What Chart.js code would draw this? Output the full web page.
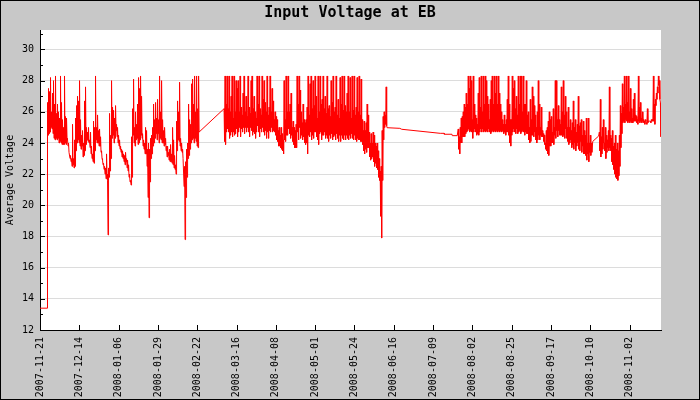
<!DOCTYPE html>
<html>
<head>
<meta charset="utf-8">
<title>Input Voltage at EB</title>
<script src="https://cdn.jsdelivr.net/npm/chart.js@4/dist/chart.umd.min.js"></script>
<style>
    html, body { margin: 0; padding: 0; background: #c8c8c8; }
    #wrap { width: 700px; height: 400px; }
</style>
</head>
<body>
<div id="wrap"><canvas id="voltChart" width="700" height="400"></canvas></div>
<script>
// Eixo X: dias desde 2007-11-21, um rotulo a cada 2.000.000 s
const dateTicks = ['2007-11-21', '2007-12-14', '2008-01-06', '2008-01-29', '2008-02-22', '2008-03-16',
    '2008-04-08', '2008-05-01', '2008-05-24', '2008-06-16', '2008-07-09', '2008-08-02',
    '2008-08-25', '2008-09-17', '2008-10-10', '2008-11-02'];
const tickEveryDays = 23.148;
const lastDay = 365.7;
const yMin = 12;
const yMax = 31.25;

const readingStep = 0.2946; // dias entre leituras

// inicio: leitura baixa antes da primeira rajada
const leadDays = [0, 4.40];
const leadVolts = [13.4, 13.4];

const burst1Start = 4.42;
const burst1 = [
    26.6,24.5, 27.5,24.6, 27.3,24.7, 28.2,25.0, 26.0,24.9, 27.2,24.6, 28.0,24.3, 26.5,24.2, 28.3,24.3, 25.9,24.2,
    26.5,24.3, 26.0,24.0, 25.6,24.1, 28.3,24.0, 26.6,23.9, 25.5,23.9, 25.0,23.9, 28.3,24.0, 25.7,23.9, 25.6,24.3,
    24.2,23.8, 24.0,23.4, 23.4,23.0, 23.2,22.8, 23.0,22.5, 25.2,22.6, 23.0,22.4, 24.2,22.5, 25.6,23.5, 26.4,24.0,
    27.0,24.2, 26.7,24.0, 28.0,23.8, 25.5,23.6, 24.5,23.8, 24.8,23.1, 24.0,23.2, 26.7,23.5, 27.6,23.9, 25.0,24.2,
    24.7,24.1, 25.0,24.0, 24.2,23.7, 24.7,23.3, 23.8,23.0, 23.3,22.8, 25.4,22.7, 25.0,23.5, 28.3,24.2, 25.0,24.0,
    25.8,24.0, 24.8,23.8, 24.9,23.8, 24.4,23.4, 23.5,23.0, 22.9,22.6, 22.7,22.3, 22.5,22.0, 22.4,21.7, 23.3,22.0,
    21.6,18.1, 22.4,21.8, 25.9,22.2, 24.5,23.0, 28.0,24.3, 26.3,24.5, 26.1,24.0, 25.6,24.3, 26.4,24.8, 25.2,24.4,
    25.0,24.0, 24.5,23.8, 24.2,23.6, 23.8,23.4, 23.6,23.1, 23.5,23.0, 23.3,22.8, 23.2,22.6, 23.4,22.8, 23.0,22.4,
    22.9,22.2, 22.6,21.8, 22.0,21.5, 21.6,21.3, 24.4,21.8, 26.2,24.5, 28.1,24.0, 25.0,23.8, 26.0,24.2, 25.2,24.3,
    26.5,23.9, 28.2,24.0, 27.5,24.2, 28.3,24.5, 27.0,24.3, 24.6,23.8, 24.2,23.6, 24.0,23.3, 25.0,23.3, 24.8,22.5,
    23.6,20.5, 24.0,19.2, 23.6,21.5, 24.3,23.0, 24.5,23.3, 25.0,23.8, 26.5,24.0, 25.5,24.3, 26.6,24.6, 25.6,24.2,
    26.8,24.6, 25.5,24.0, 28.3,24.3, 26.0,24.2, 28.0,24.0, 25.5,24.0, 24.8,23.8, 25.0,23.9, 24.3,23.5, 23.8,23.1,
    23.8,23.2, 23.4,22.9, 23.6,22.8, 23.9,22.8, 23.3,22.7, 25.0,22.6, 24.2,22.4, 23.2,22.3, 22.6,22.0, 25.4,23.5,
    26.7,24.2, 26.0,24.1, 27.9,23.8, 24.3,23.5, 24.0,23.4, 23.6,23.0, 23.0,21.2, 22.5,17.8, 22.8,20.5, 23.6,21.8,
    24.0,23.0, 26.5,23.2, 25.5,23.6, 25.2,24.0, 27.8,24.2, 28.1,24.3, 26.5,24.0, 28.3,24.3, 26.0,24.1, 28.3,23.8,
    26.2,23.7, 28.3,24.7
];

const burst2Start = 108.4;
const burst2 = [
    26.2,24.1, 28.3,23.9, 26.5,24.7, 28.3,24.9, 26.2,24.7, 28.3,24.3, 26.0,24.5, 27.0,24.7, 28.3,24.4, 25.6,24.7,
    28.3,24.5, 26.0,24.6, 28.0,24.9, 27.5,24.4, 28.0,24.7, 26.0,25.0, 28.3,24.4, 26.3,24.9, 25.8,24.7, 27.2,25.0,
    28.3,24.6, 26.0,25.0, 27.0,24.7, 25.7,25.0, 28.3,24.7, 26.3,24.4, 25.9,25.0, 28.0,24.8, 28.3,24.5, 26.2,24.7,
    27.0,24.6, 26.0,24.3, 25.6,24.7, 28.3,25.1, 26.5,24.7, 28.3,24.4, 26.2,24.9, 25.8,24.7, 28.3,25.0, 26.8,24.7,
    28.0,24.5, 26.6,24.8, 26.0,24.3, 28.3,24.7, 25.8,24.3, 26.3,24.8, 28.3,24.7, 26.0,25.0, 27.5,24.7, 26.7,24.8,
    25.5,24.7, 26.0,24.5, 25.7,24.2, 25.5,24.1, 24.8,23.8, 25.0,23.8, 24.5,23.7, 25.0,23.6, 24.6,23.5, 24.2,23.3,
    28.0,24.2, 25.5,24.1, 28.3,24.5, 26.0,24.5, 28.3,24.9, 26.0,24.6, 26.5,24.3, 27.2,24.5, 25.0,24.1, 25.4,23.9,
    25.0,23.7, 24.8,23.7, 25.2,23.7, 28.3,24.7, 26.5,24.2, 28.3,25.0, 27.4,24.3, 26.0,24.5, 25.3,24.2, 26.5,24.4,
    25.5,24.0, 25.3,23.9, 25.5,24.0, 26.3,23.3, 28.3,24.5, 25.8,24.4, 27.8,24.7, 28.3,24.2, 26.2,24.5, 28.0,24.3,
    26.4,24.7, 28.3,24.7, 27.0,24.4, 25.6,24.2, 28.3,23.9, 26.0,24.6, 28.3,24.7, 26.5,24.2, 26.8,24.5, 28.3,24.5,
    26.2,24.7, 27.0,24.3, 25.9,24.5, 28.3,24.3, 26.2,24.1, 26.4,24.5, 25.7,24.3, 28.0,24.6, 26.6,24.2, 28.3,24.4,
    26.0,24.5, 26.3,24.2, 28.3,24.6, 25.8,24.3, 26.8,24.1, 25.6,24.5, 28.2,24.1, 26.5,24.5, 28.3,24.3, 26.1,24.2,
    28.3,24.5, 26.4,24.2, 26.0,24.5, 27.2,24.3, 28.3,24.2, 26.0,24.5, 28.2,24.3, 25.6,24.6, 28.3,24.3, 26.1,24.2,
    28.3,24.5, 25.8,24.2, 26.3,24.1, 28.2,24.3, 26.0,24.2, 28.3,24.2, 25.8,24.1, 28.1,24.1, 25.5,23.9, 24.8,23.5,
    25.4,23.3, 24.8,23.6, 25.3,23.4, 26.5,23.7, 25.8,23.7, 24.7,23.1, 24.0,22.9, 24.6,23.0, 24.0,23.1, 24.7,22.8,
    24.5,22.5, 24.0,22.7, 23.8,22.4, 24.0,22.3, 23.5,21.8, 23.0,21.6, 22.2,19.3, 22.5,17.9, 24.8,21.6, 25.7,24.2,
    26.0,25.0, 25.8,25.2, 27.6,25.1
];

// periodo sem rajadas (linha quase plana)
const outageDays = [204.4, 211.9, 213.0, 235.7, 238.0, 238.1, 242.6, 242.8, 245.7];
const outageVolts = [24.98, 24.94, 24.88, 24.62, 24.62, 24.56, 24.56, 24.47, 24.47];

const burst3Start = 246.3;
const burst3 = [
    24.9,23.6, 24.4,23.3, 25.0,24.0, 25.6,24.0, 25.7,24.4, 26.0,24.4, 26.5,24.4, 26.3,24.6, 27.2,24.7, 26.5,24.8,
    28.3,24.9, 27.5,24.7, 28.3,24.8, 28.0,24.7, 25.5,24.3, 28.3,24.7, 26.5,24.9, 25.8,24.7, 25.6,24.5, 25.2,24.6,
    27.2,24.5, 28.2,24.7, 26.3,24.9, 28.3,24.7, 26.0,24.9, 28.3,24.7, 26.5,24.8, 28.3,24.7, 28.0,24.8, 27.0,24.7,
    26.5,24.9, 25.5,24.7, 26.8,24.6, 28.0,24.7, 28.3,24.8, 26.5,24.7, 28.3,24.8, 27.2,24.7, 28.3,24.8, 26.5,24.7,
    28.3,24.8, 27.2,24.7, 26.5,24.8, 26.0,24.7, 25.5,24.8, 25.2,24.6, 25.8,24.7, 25.2,24.5, 25.5,24.7, 26.8,24.7,
    28.3,24.5, 26.5,24.0, 25.5,23.8, 25.5,24.5, 28.3,24.7, 27.5,24.9, 28.0,24.7, 26.2,24.6, 27.0,24.9, 25.8,24.6,
    28.3,24.7, 26.5,24.8, 28.3,24.6, 28.3,24.7, 26.0,24.8, 28.3,24.7, 26.5,24.5, 26.5,24.7, 28.0,24.6, 25.8,24.6,
    26.0,24.2, 25.0,24.0, 26.8,24.1, 25.5,24.5, 27.6,24.5, 27.0,24.4, 26.4,24.7, 25.8,24.2, 25.0,24.0, 26.0,24.2,
    28.0,24.5, 26.5,24.2, 25.0,24.5, 26.3,24.4, 24.8,24.4, 24.6,24.1, 24.5,23.9, 24.0,23.6, 24.8,23.5, 25.0,23.3,
    25.4,23.2, 26.0,23.8, 25.5,23.8, 25.7,24.0, 24.7,24.0, 26.2,23.9, 25.0,24.5, 28.0,24.3, 28.0,24.8, 25.5,24.4,
    26.4,24.8, 25.5,24.5, 25.2,24.5, 27.6,24.5, 26.0,24.4, 28.0,24.5, 25.8,24.3, 27.0,24.9, 26.0,24.3, 25.0,24.1,
    26.3,23.9, 25.0,24.0, 25.5,24.2, 24.8,23.7, 25.3,23.9, 26.7,23.6, 25.0,24.0, 25.5,23.5, 24.7,23.8, 25.2,24.0,
    27.0,23.6, 25.1,23.5, 25.3,24.1, 25.5,23.4, 24.5,23.8, 25.4,23.3, 24.8,23.3, 24.5,23.2, 25.6,22.9, 24.0,23.3,
    25.6,22.8, 24.0,23.4, 24.5,23.2, 24.0,23.4
];

// subida lenta antes da ultima rajada
const rampDays = [325.5, 329.0];
const rampVolts = [24.1, 24.45];

const burst4Start = 329.4;
const burst4 = [
    24.7,23.5, 26.8,23.1, 24.4,23.3, 25.0,23.6, 25.5,24.0, 24.0,23.5, 25.0,23.0, 24.5,23.4, 24.2,23.7, 24.8,23.5,
    27.6,23.7, 24.5,23.5, 24.3,22.8, 24.8,22.6, 23.8,22.3, 24.0,22.0, 24.5,21.8, 23.6,21.7, 24.0,21.6, 23.5,21.9,
    24.5,22.5, 26.4,23.7, 25.9,24.6, 27.8,25.3, 26.3,25.4, 28.3,25.3, 26.5,25.5, 28.3,25.4, 26.6,25.3, 28.3,25.4,
    26.0,25.3, 27.5,25.4, 26.2,25.3, 25.6,25.3, 26.8,25.4, 27.2,25.4, 25.8,25.4, 25.7,25.3, 25.5,25.2, 28.3,25.4,
    26.3,25.3, 26.6,25.4, 25.6,25.3, 26.0,25.4, 25.5,25.3, 25.4,25.2, 25.5,25.4, 25.3,25.2, 26.2,25.3, 25.4,25.4,
    25.4,25.4, 25.4,25.3, 25.5,25.4, 25.5,25.4, 28.3,25.4, 26.5,25.2, 26.8,26.4, 27.2,26.8, 27.6,27.2, 28.3,27.7,
    28.0,26.8, 26.6,24.4
];

function buildSeries() {
    const points = [];
    const addPairs = (days, volts) => days.forEach((d, i) => points.push({ x: d, y: volts[i] }));
    const addBurst = (start, readings) => readings.forEach((v, i) => points.push({ x: start + i * readingStep, y: v }));

    addPairs(leadDays, leadVolts);
    addBurst(burst1Start, burst1);
    addBurst(burst2Start, burst2);
    addPairs(outageDays, outageVolts);
    addBurst(burst3Start, burst3);
    addPairs(rampDays, rampVolts);
    addBurst(burst4Start, burst4);
    return points;
}

// Fundo cinza, area branca, marcas internas e moldura
const framePlugin = {
    id: 'frame',
    beforeDraw(chart) {
        const { ctx, chartArea: a } = chart;
        ctx.save();
        ctx.fillStyle = '#c8c8c8';
        ctx.fillRect(0, 0, chart.width, chart.height);
        ctx.fillStyle = '#ffffff';
        ctx.fillRect(a.left, a.top, a.right - a.left, a.bottom - a.top);
        ctx.restore();
    },
    afterDraw(chart) {
        const { ctx, chartArea: a, scales } = chart;
        ctx.save();
        ctx.strokeStyle = '#000';
        ctx.lineWidth = 1;
        ctx.beginPath();
        scales.y.ticks.forEach(t => {
            const y = Math.round(scales.y.getPixelForValue(t.value)) + 0.5;
            const len = t.value % 2 === 0 ? 5 : 3;
            ctx.moveTo(a.left, y);
            ctx.lineTo(a.left + len, y);
        });
        scales.x.ticks.forEach(t => {
            const x = Math.round(scales.x.getPixelForValue(t.value)) + 0.5;
            ctx.moveTo(x, a.bottom);
            ctx.lineTo(x, a.bottom - 5);
        });
        ctx.stroke();
        ctx.strokeRect(0.5, 0.5, chart.width - 1, chart.height - 1);
        ctx.restore();
    }
};

const monoFont = { family: "'DejaVu Sans Mono', monospace", size: 10 };

const ctx = document.getElementById('voltChart').getContext('2d');
new Chart(ctx, {
    type: 'line',
    data: {
        datasets: [{
            label: 'Average Voltage',
            data: buildSeries(),
            borderColor: '#ff0000',
            borderWidth: 1,
            pointRadius: 0,
            fill: false,
            tension: 0
        }]
    },
    options: {
        responsive: false,
        animation: false,
        parsing: false,
        layout: { padding: 0 },
        plugins: {
            legend: { display: false },
            tooltip: { enabled: false },
            title: {
                display: true,
                text: 'Input Voltage at EB',
                color: '#000',
                font: { family: "'DejaVu Sans Mono', monospace", size: 15, weight: 'bold' },
                padding: { top: 4, bottom: 8 }
            }
        },
        scales: {
            x: {
                type: 'linear',
                min: 0,
                max: lastDay,
                afterFit: s => { s.height = 70; },
                afterBuildTicks: s => { s.ticks = dateTicks.map((d, i) => ({ value: i * tickEveryDays })); },
                grid: { display: false, drawTicks: false },
                border: { color: '#000', width: 1 },
                ticks: {
                    autoSkip: false,
                    minRotation: 90,
                    maxRotation: 90,
                    padding: 7,
                    color: '#000',
                    font: monoFont,
                    callback: (v, i) => dateTicks[i]
                }
            },
            y: {
                type: 'linear',
                min: yMin,
                max: yMax,
                afterFit: s => { s.width = 40; },
                afterBuildTicks: s => {
                    const t = [];
                    for (let v = yMin; v <= yMax; v++) t.push({ value: v });
                    s.ticks = t;
                },
                grid: {
                    drawTicks: false,
                    color: c => (c.tick && c.tick.value % 2 === 0 && c.tick.value > yMin) ? '#dcdcdc' : 'rgba(0,0,0,0)'
                },
                border: { color: '#000', width: 1 },
                ticks: {
                    padding: 6,
                    color: '#000',
                    font: monoFont,
                    callback: v => (v % 2 === 0 ? String(v) : '')
                },
                title: {
                    display: true,
                    text: 'Average Voltage',
                    color: '#000',
                    font: monoFont,
                    padding: { top: 4, bottom: 0 }
                }
            },
            // margem direita vazia (mantem o titulo centrado no canvas)
            yRight: {
                type: 'linear',
                position: 'right',
                min: yMin,
                max: yMax,
                afterFit: s => { s.width = 39; },
                grid: { display: false, drawTicks: false },
                border: { display: false },
                ticks: { display: false }
            }
        }
    },
    plugins: [framePlugin]
});
</script>
</body>
</html>
